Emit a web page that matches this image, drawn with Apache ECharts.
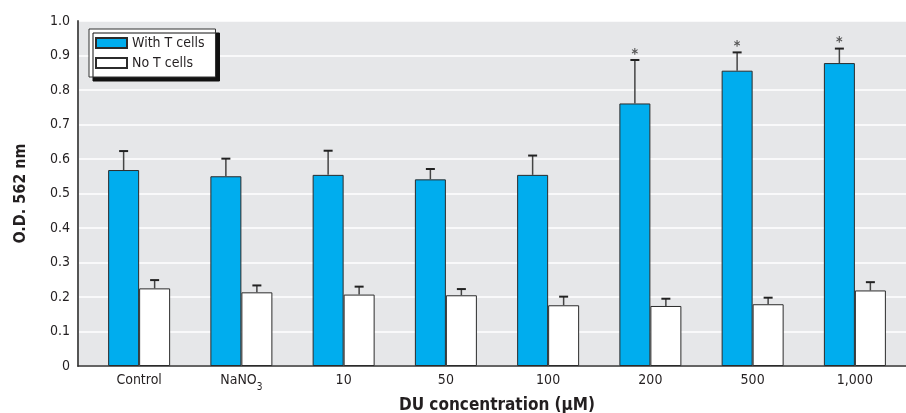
<!DOCTYPE html>
<html>
<head>
<meta charset="utf-8">
<script src="https://cdn.jsdelivr.net/npm/echarts@6/dist/echarts.min.js"></script>
<style>html,body{margin:0;padding:0;background:#fff}#c{width:906px;height:413px}</style>
</head>
<body>
<div id="c"></div>
<script>
const categories = ['Control', 'NaNO3', '10', '50', '100', '200', '500', '1,000'];
const withTCells = [0.568, 0.550, 0.554, 0.541, 0.554, 0.761, 0.856, 0.878];
const withTCellsErr = [0.055, 0.051, 0.070, 0.030, 0.056, 0.126, 0.053, 0.042];
const noTCells = [0.225, 0.2135, 0.207, 0.205, 0.176, 0.174, 0.179, 0.219];
const noTCellsErr = [0.024, 0.020, 0.023, 0.018, 0.025, 0.021, 0.019, 0.024];
const significant = [false, false, false, false, false, true, true, true];
const yMin = 0, yMax = 1.0, yStep = 0.1;

const FONT = "'DejaVu Sans Condensed', 'Liberation Sans Narrow', sans-serif";
const TXT = '#231f20';
const BAR_W = 31;

function errData(means, errs, stars) {
  return means.map((m, i) => [i, m, errs[i], stars ? (stars[i] ? 1 : 0) : 0]);
}
function makeRender(offset) {
  return function (params, api) {
    const i = api.value(0), m = api.value(1), e = api.value(2), s = api.value(3);
    const base = api.coord([i, m]);
    const top = api.coord([i, m + e]);
    const x = base[0] + offset;
    const children = [
      { type: 'line', shape: { x1: x, y1: base[1], x2: x, y2: top[1] }, style: { stroke: '#444', lineWidth: 1.5 } },
      { type: 'line', shape: { x1: x - 4.5, y1: top[1], x2: x + 4.5, y2: top[1] }, style: { stroke: '#222', lineWidth: 2 } }
    ];
    if (s) {
      children.push({ type: 'text', x: x, y: top[1] - 6, style: { text: '*', fill: '#555', font: 'bold 14px ' + FONT, align: 'center', verticalAlign: 'middle' } });
    }
    return { type: 'group', children: children };
  };
}

const chart = echarts.init(document.getElementById('c'));
chart.setOption({
  animation: false,
  textStyle: { fontFamily: FONT, color: TXT },
  grid: [
    { left: 88, right: 0, top: 21, bottom: 47, containLabel: false, outerBoundsMode: 'none' },
    { left: 78, right: 0, top: 21, bottom: 47, show: true, backgroundColor: '#e6e7e9', borderWidth: 0, z: 0, outerBoundsMode: 'none' }
  ],
  legend: {
    orient: 'vertical', left: 89, top: 29,
    padding: [7, 11, 7, 6],
    itemWidth: 31, itemHeight: 10, itemGap: 6, itemTextGap: 7,
    backgroundColor: '#fff', borderColor: '#333', borderWidth: 1,
    shadowColor: '#111', shadowBlur: 0, shadowOffsetX: 4, shadowOffsetY: 4,
    textStyle: { fontFamily: FONT, fontSize: 14, lineHeight: 14, color: TXT },
    data: [{ name: 'With T cells', icon: 'rect' }, { name: 'No T cells', icon: 'rect' }]
  },
  xAxis: [
    {
      type: 'category', gridIndex: 0, data: categories,
      axisLine: { show: false }, axisTick: { show: false },
      axisLabel: {
        interval: 0, margin: 7, fontFamily: FONT, fontSize: 14, color: TXT,
        formatter: v => v === 'NaNO3' ? '{n|NaNO}{s|3}' : '{n|' + v + '}',
        rich: {
          n: { fontSize: 14, fontFamily: FONT, color: TXT, lineHeight: 19, verticalAlign: 'top' },
          s: { fontSize: 10, fontFamily: FONT, color: TXT, lineHeight: 18, verticalAlign: 'bottom' }
        }
      },
      name: 'DU concentration (\u03BCM)', nameLocation: 'middle', nameGap: 29,
      nameTextStyle: { fontFamily: FONT, fontSize: 17, fontWeight: 'bold', color: TXT }
    },
    {
      type: 'value', gridIndex: 1, min: 0, max: 1,
      axisLine: { show: true, lineStyle: { color: '#333', width: 1.5 } },
      axisTick: { show: false }, axisLabel: { show: false }, splitLine: { show: false }
    }
  ],
  yAxis: [
    { type: 'value', gridIndex: 0, min: yMin, max: yMax, interval: yStep, show: false },
    {
      type: 'value', gridIndex: 1, min: yMin, max: yMax, interval: yStep,
      axisLine: { show: true, lineStyle: { color: '#555', width: 2 } },
      axisTick: { show: false },
      axisLabel: {
        margin: 8, fontFamily: FONT, fontSize: 14, color: TXT,
        formatter: v => v === 0 ? '0' : v.toFixed(1)
      },
      splitLine: { show: true, lineStyle: { color: '#fff', width: 1.5 } },
      name: 'O.D. 562 nm', nameLocation: 'middle', nameGap: 49, nameRotate: 90,
      nameTextStyle: { fontFamily: FONT, fontSize: 16, fontWeight: 'bold', color: TXT }
    }
  ],
  series: [
    {
      name: 'With T cells', type: 'bar', xAxisIndex: 0, yAxisIndex: 0,
      data: withTCells, barWidth: BAR_W, barGap: '0%',
      itemStyle: { color: '#00adee', borderColor: '#2b2b2b', borderWidth: 1 }
    },
    {
      name: 'No T cells', type: 'bar', xAxisIndex: 0, yAxisIndex: 0,
      data: noTCells, barWidth: BAR_W, barGap: '0%',
      itemStyle: { color: '#ffffff', borderColor: '#2b2b2b', borderWidth: 1 }
    },
    {
      type: 'custom', xAxisIndex: 0, yAxisIndex: 0, z: 3, silent: true,
      renderItem: makeRender(-BAR_W / 2), data: errData(withTCells, withTCellsErr, significant)
    },
    {
      type: 'custom', xAxisIndex: 0, yAxisIndex: 0, z: 3, silent: true,
      renderItem: makeRender(BAR_W / 2), data: errData(noTCells, noTCellsErr, null)
    }
  ]
});
</script>
</body>
</html>
